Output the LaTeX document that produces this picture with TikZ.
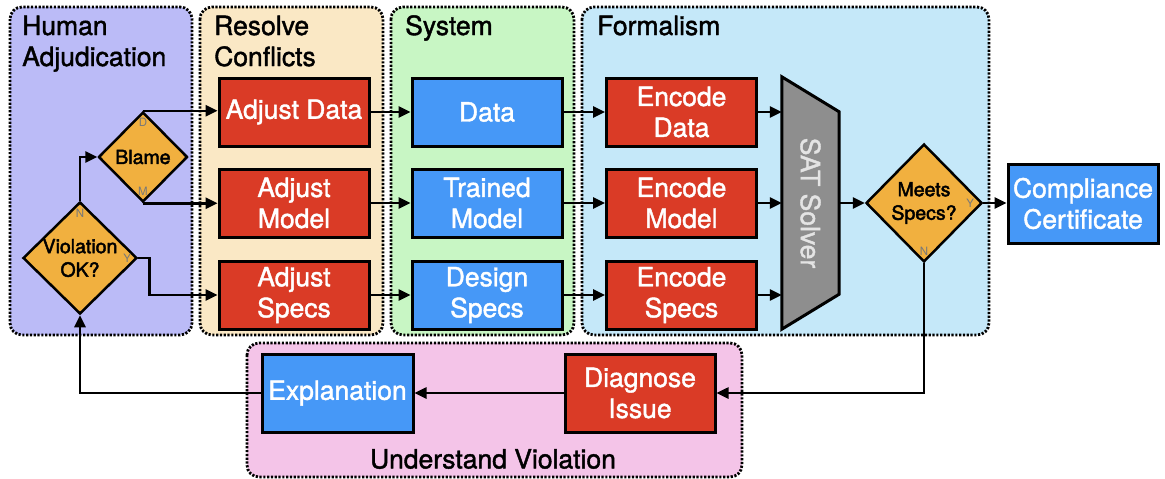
\documentclass[tikz,border=0pt]{standalone}
\usepackage{fontspec}
\setmainfont{TeX Gyre Heros}[BoldFont={TeX Gyre Heros}, BoldFeatures={FakeBold=1.5}]
\newfontfamily\dfont{TeX Gyre Heros}[FakeBold=2.2]
\usetikzlibrary{arrows.meta,shapes.geometric,calc}

\definecolor{humanbg}{RGB}{187,187,247}
\definecolor{resolvebg}{RGB}{250,232,197}
\definecolor{systembg}{RGB}{200,246,196}
\definecolor{formalbg}{RGB}{197,232,249}
\definecolor{understandbg}{RGB}{244,196,232}
\definecolor{boxred}{RGB}{218,59,38}
\definecolor{boxblue}{RGB}{70,152,247}
\definecolor{dorange}{RGB}{241,176,63}
\definecolor{satgray}{RGB}{142,142,142}
\definecolor{sattext}{RGB}{228,228,228}
\definecolor{taggray}{RGB}{120,120,120}

\tikzset{
  panel/.style={draw=black, line width=2.8pt, dash pattern=on 2.2pt off 1.6pt, rounded corners=12pt},
  title/.style={font=\fontsize{26.5}{31}\selectfont\bfseries, inner sep=0pt, anchor=base west},
  procbox/.style={draw=black, line width=3pt, minimum width=150pt, minimum height=68pt,
    align=center, text=white, inner sep=0pt, font=\fontsize{26.5}{31}\selectfont\bfseries},
  redbox/.style={procbox, fill=boxred},
  bluebox/.style={procbox, fill=boxblue},
  decision/.style={diamond, draw=black, line width=2.5pt, fill=dorange, inner sep=0pt},
  dtext/.style={align=center, inner sep=0pt, font=\dfont\fontsize{19.5}{23.5}\selectfont},
  tag/.style={text=taggray, inner sep=0pt, font=\fontsize{11.5}{11.5}\selectfont},
  arr/.style={line width=2.5pt, -{Triangle[length=12pt,width=11pt]}},
}

\begin{document}
\begin{tikzpicture}[x=1pt,y=-1pt]
\useasboundingbox (0,0) rectangle (1165,479);

% lanes
\path[panel, fill=humanbg]      (10,7)   rectangle (192,335);
\path[panel, fill=resolvebg]    (200,7)  rectangle (383,335);
\path[panel, fill=systembg]     (391,7)  rectangle (574,335);
\path[panel, fill=formalbg]     (582,7)  rectangle (989,335);
\path[panel, fill=understandbg] (247,343) rectangle (742,477);

% lane titles
\node[title] (th1) at (22,35) {Human};
\node[title] (th2) at (22,66) {Adjudication};
\node[title] (tr1) at (214,35) {Resolve};
\node[title] (tr2) at (214,66) {Conflicts};
\node[title] (ts)  at (405,35) {System};
\node[title] (tf)  at (597,35) {Formalism};
\node[font=\fontsize{26.5}{31}\selectfont\bfseries, inner sep=0pt] (tu) at (493,459) {Understand Violation};

% resolve conflicts
\node[redbox] (adata)  at (294,112) {Adjust Data};
\node[redbox] (amodel) at (294,203) {Adjust\\Model};
\node[redbox] (aspecs) at (294,295) {Adjust\\Specs};

% system
\node[bluebox] (data)   at (487,112) {Data};
\node[bluebox] (tmodel) at (487,203) {Trained\\Model};
\node[bluebox] (dspecs) at (487,295) {Design\\Specs};

% formalism
\node[redbox] (edata)  at (681.5,112) {Encode\\Data};
\node[redbox] (emodel) at (681.5,203) {Encode\\Model};
\node[redbox] (especs) at (681.5,295) {Encode\\Specs};

% SAT solver (trapezoid)
\node[minimum width=57pt, minimum height=252pt, inner sep=0pt] (sat) at (810.5,203) {};
\draw[line width=3pt, fill=satgray, line join=miter]
  (sat.north west) -- ([yshift=-35pt]sat.north east) -- ([yshift=35pt]sat.south east)
  -- (sat.south west) -- cycle;
\node[rotate=-90, text=sattext, inner sep=0pt, font=\fontsize{26.5}{31}\selectfont\bfseries] (satlbl) at (sat.center) {SAT Solver};

% decisions
\node[decision, minimum width=89pt, minimum height=90pt,
  label={[dtext]center:Blame}] (blame) at (143,157) {};
\node[decision, minimum width=114pt, minimum height=112pt,
  label={[dtext]center:Violation\\OK?}] (viol) at (80,258) {};
\node[decision, minimum width=116pt, minimum height=118pt,
  label={[dtext]center:Meets\\Specs?}] (meets) at (924,203) {};

\node[tag] (tD)  at ([yshift=-12pt]blame.north) {D};
\node[tag] (tM)  at ([yshift=12pt]blame.south) {M};
\node[tag] (tN1) at ([yshift=-13pt]viol.north) {N};
\node[tag] (tY1) at ([xshift=-11pt]viol.east) {Y};
\node[tag] (tY2) at ([xshift=-13pt]meets.east) {Y};
\node[tag] (tN2) at ([yshift=12pt]meets.south) {N};

% outputs
\node[bluebox, minimum height=79pt] (cert) at (1083,203.5) {Compliance\\Certificate};

% understand violation
\node[bluebox, minimum width=151pt, minimum height=78pt] (expl) at (337.5,393) {Explanation};
\node[redbox, minimum height=78pt] (diag) at (640,393) {Diagnose\\Issue};

% connectors
\draw[arr] (viol.north) |- (blame.west);
\draw[arr] (blame.north) -- (blame.north -| adata.west);
\draw[arr] (blame.south) -- (blame.south -| amodel.west);
\draw[arr] (viol.east) -- ++(11,0) |- (aspecs.west);

\draw[arr] (adata)  -- (data);
\draw[arr] (amodel) -- (tmodel);
\draw[arr] (aspecs) -- (dspecs);

\draw[arr] (data)   -- (edata);
\draw[arr] (tmodel) -- (emodel);
\draw[arr] (dspecs) -- (especs);

\draw[arr] (edata.east)  -- (edata.east -| sat.west);
\draw[arr] (emodel.east) -- (emodel.east -| sat.west);
\draw[arr] (especs.east) -- (especs.east -| sat.west);

\draw[arr] (sat.east) -- (meets.west);
\draw[arr] (meets.east) -- (meets.east -| cert.west);
\draw[arr] (meets.south) |- (diag.east);
\draw[arr] (diag) -- (expl);
\draw[arr] (expl.west) -| (viol.south);
\end{tikzpicture}
\end{document}
